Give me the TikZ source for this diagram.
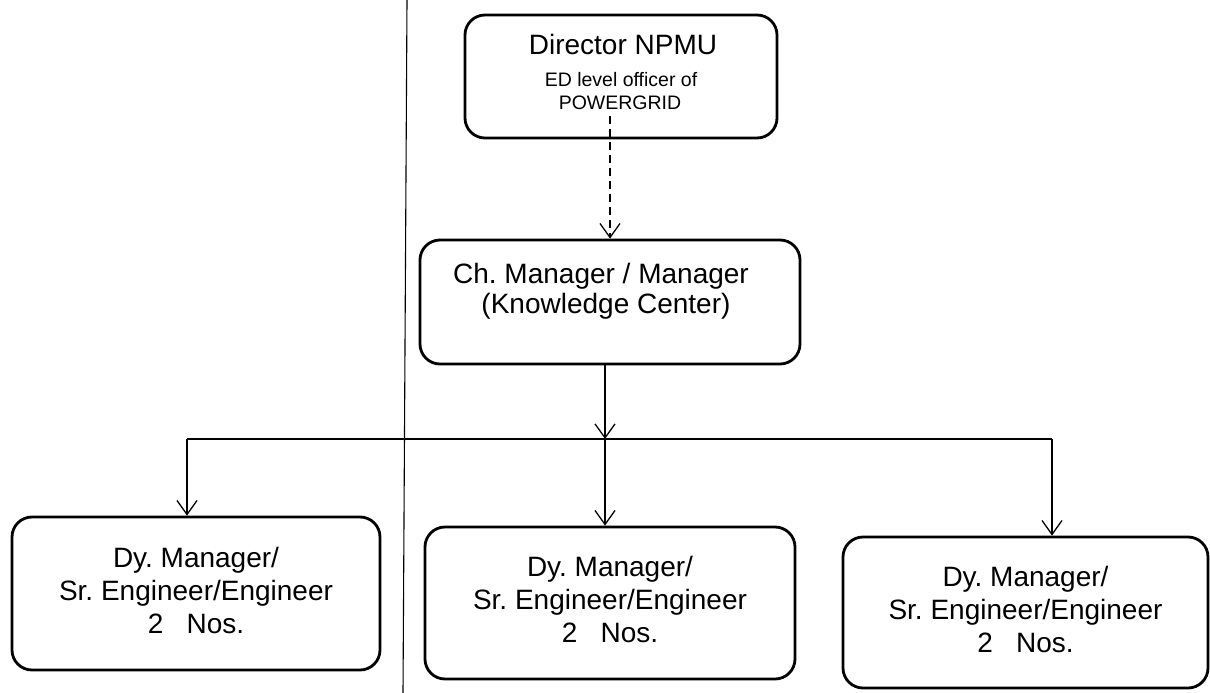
\documentclass[tikz,border=0pt]{standalone}
\usepackage{fontspec}
\setmainfont{Liberation Sans}
\usetikzlibrary{arrows.meta}
\frenchspacing
\begin{document}
\begin{tikzpicture}[x=1pt,y=-1pt,
  box/.style={draw=black, line width=2.8pt, rounded corners=20pt, inner sep=0pt, align=center,
              font=\fontsize{28}{33}\selectfont},
  conn/.style={draw=black, line width=1.3pt},
  arr/.style={conn, -{Straight Barb[length=14pt,width=20pt,line width=1.3pt]}},
  dasharr/.style={arr, dash pattern=on 8pt off 5pt},
  big/.style={font=\fontsize{28}{33}\selectfont, inner sep=0pt, anchor=base},
  small/.style={font=\fontsize{19.5}{23}\selectfont, inner sep=0pt, anchor=base}]
\useasboundingbox[fill=white] (0,0) rectangle (1210,693);

% separator line
\coordinate (vtop) at (407,0);
\coordinate (vbot) at (403,693);
\draw[line width=1.1pt] (vtop) -- (vbot);

% top box
\node[box, minimum width=312pt, minimum height=123pt] (dir) at (621,76.5) {};
\node[big] (dirA) at (623,55) {Director NPMU};
\node[small] (dirB) at (621,87) {ED level officer of};
\node[small] (dirC) at (620,110) {POWERGRID};

% knowledge center box
\node[box, minimum width=380pt, minimum height=124pt] (kc) at (610,302) {};
\node[big] (kcA) at (601,283) {Ch. Manager / Manager};
\node[big] (kcB) at (606,313) {(Knowledge Center)};

% bottom boxes
\node[box, minimum width=368pt, minimum height=153pt] (L) at (196,593.5)
  {\raisebox{6pt}{\begin{tabular}{@{}c@{}}Dy. Manager/\\Sr. Engineer/Engineer\\2\ \ \ Nos.\end{tabular}}};
\node[box, minimum width=370pt, minimum height=152pt] (M) at (610,603)
  {\raisebox{6pt}{\begin{tabular}{@{}c@{}}Dy. Manager/\\Sr. Engineer/Engineer\\2\ \ \ Nos.\end{tabular}}};
\node[box, minimum width=365pt, minimum height=151pt] (R) at (1025.5,612.5)
  {\begin{tabular}{@{}c@{}}Dy. Manager/\\Sr. Engineer/Engineer\\2\ \ \ Nos.\end{tabular}};

% connectors
\coordinate (dstart) at (610,116);
\draw[dasharr] (dstart) -- (dstart |- kc.north);

\coordinate (j) at (605,439);
\coordinate (hl) at (187,439);
\coordinate (hr) at (1052,439);
\draw[arr] (j |- kc.south) -- (j);
\draw[conn] (hl) -- (hr);
\draw[arr] (hl) -- (hl |- L.north);
\draw[arr] (j) -- (j |- M.north);
\draw[arr] (hr) -- (hr |- R.north);
\end{tikzpicture}
\end{document}
